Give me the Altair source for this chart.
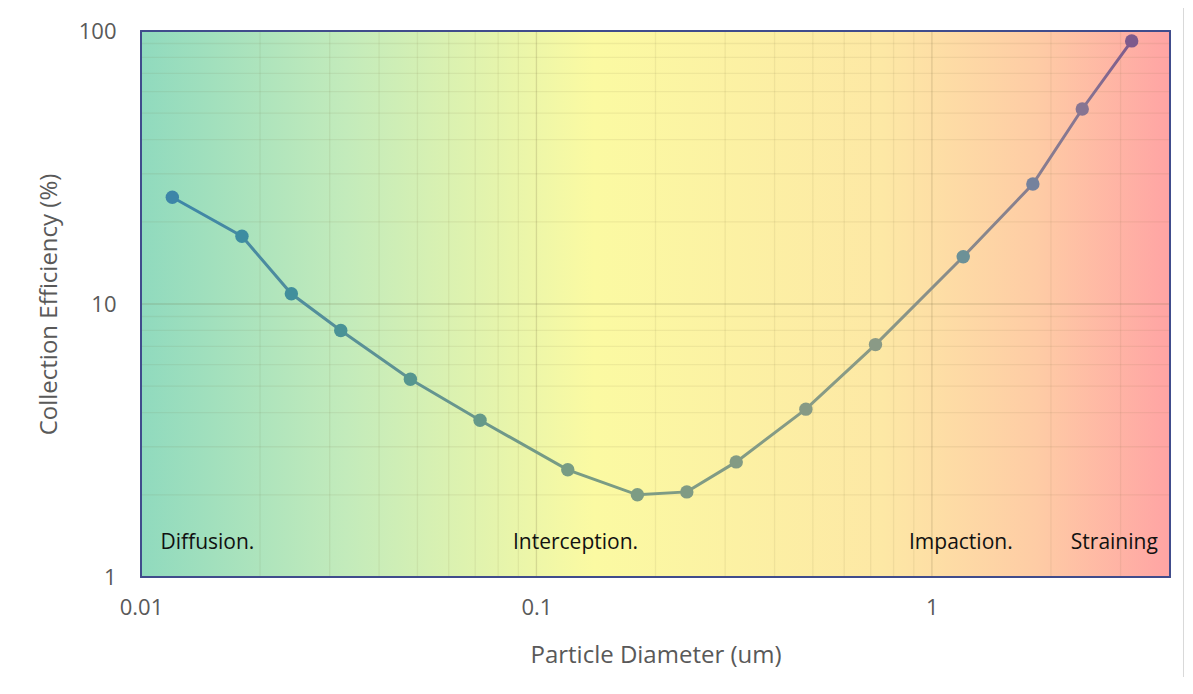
import altair as alt
import pandas as pd

diameter = [0.012, 0.018, 0.024, 0.032, 0.048, 0.072, 0.12, 0.18, 0.24, 0.32, 0.48, 0.72, 1.2, 1.8, 2.4, 3.2]
efficiency = [24.6, 17.7, 10.9, 8.0, 5.3, 3.75, 2.47, 2.0, 2.05, 2.64, 4.12, 7.1, 14.9, 27.5, 51.8, 92.0]

region_labels = ["Diffusion.", "Interception.", "Impaction.", "Straining"]
region_x = [0.0112, 0.0872, 0.875, 2.245]
region_y = [1.33, 1.33, 1.33, 1.33]

x_major = [0.01, 0.1, 1]
x_minor = [0.02, 0.03, 0.04, 0.05, 0.06, 0.07, 0.08, 0.09,
           0.2, 0.3, 0.4, 0.5, 0.6, 0.7, 0.8, 0.9, 2, 3]
y_major = [1, 10, 100]
y_minor = [2, 3, 4, 5, 6, 7, 8, 9, 20, 30, 40, 50, 60, 70, 80, 90]

W, H = 1029, 546
FONT = "Open Sans"

df = pd.DataFrame({"d": diameter, "e": efficiency})
ann = pd.DataFrame({"t": region_labels, "x": region_x, "y": region_y})

grid_col = "#6e643c"

xscale = alt.Scale(type="log", domain=[0.01, 4], nice=False)
yscale = alt.Scale(type="log", domain=[1, 100], nice=False)

xaxis = alt.Axis(
    title="Particle Diameter (um)", values=x_major, format="~g",
    grid=False, domain=False, ticks=False, labelOverlap=False, labelFlush=False,
    labelPadding=20, labelFontSize=22, labelColor="#595959", labelFont=FONT,
    titleFont=FONT, titleFontSize=24, titleFontWeight="normal", titleColor="#595959", titlePadding=25,
)
yaxis = alt.Axis(
    title="Collection Efficiency (%)", values=y_major, format="~g",
    grid=False, domain=False, ticks=False, labelOverlap=False, labelFlush=False,
    labelPadding=25, labelFontSize=22, labelColor="#595959", labelFont=FONT,
    titleFont=FONT, titleFontSize=24, titleFontWeight="normal", titleColor="#595959", titlePadding=17,
)

bg = alt.Gradient(
    gradient="linear",
    stops=[
        alt.GradientStop(offset=0, color="#90dabe"),
        alt.GradientStop(offset=0.2, color="#c3ebbb"),
        alt.GradientStop(offset=0.44, color="#fbfaa2"),
        alt.GradientStop(offset=0.72, color="#fde8a5"),
        alt.GradientStop(offset=0.87, color="#fecca5"),
        alt.GradientStop(offset=1, color="#ffa4a4"),
    ],
    x1=0, x2=1, y1=0, y2=0,
)

background = alt.Chart(ann).mark_rect(fill=bg, stroke=None).encode(
    x=alt.value(0), x2=alt.value(W), y=alt.value(0), y2=alt.value(H)
)

gx_minor = alt.Chart(pd.DataFrame({"v": x_minor})).mark_rule(color=grid_col, opacity=0.09, strokeWidth=1.3).encode(
    x=alt.X("v:Q", scale=xscale, axis=xaxis))
gx_major = alt.Chart(pd.DataFrame({"v": x_major})).mark_rule(color=grid_col, opacity=0.2, strokeWidth=1.3).encode(
    x=alt.X("v:Q", scale=xscale))
gy_minor = alt.Chart(pd.DataFrame({"v": y_minor})).mark_rule(color=grid_col, opacity=0.09, strokeWidth=1.3).encode(
    y=alt.Y("v:Q", scale=yscale, axis=yaxis))
gy_major = alt.Chart(pd.DataFrame({"v": y_major})).mark_rule(color=grid_col, opacity=0.2, strokeWidth=1.3).encode(
    y=alt.Y("v:Q", scale=yscale))

line_grad = alt.Gradient(
    gradient="linear",
    stops=[
        alt.GradientStop(offset=0, color="#3d86a8"),
        alt.GradientStop(offset=0.41, color="#789c84"),
        alt.GradientStop(offset=0.73, color="#8a9a86"),
        alt.GradientStop(offset=0.95, color="#877592"),
        alt.GradientStop(offset=1, color="#7e5a8c"),
    ],
    x1=0, x2=1, y1=0, y2=0,
)

base = alt.Chart(df)

line = base.mark_line(strokeWidth=3, color=line_grad).encode(
    x=alt.X("d:Q", scale=xscale),
    y=alt.Y("e:Q", scale=yscale),
)

points = base.mark_point(filled=True, size=180, opacity=1).encode(
    x=alt.X("d:Q", scale=xscale),
    y=alt.Y("e:Q", scale=yscale),
    color=alt.Color("d:Q", scale=alt.Scale(type="log", domain=[0.012, 0.12, 0.72, 2.4, 3.2],
                                            range=["#3d86a8", "#789c84", "#8a9a86", "#877592", "#7e5a8c"]),
                    legend=None),
)

text = alt.Chart(ann).mark_text(align="left", baseline="middle", fontSize=21, font=FONT, color="#111111").encode(
    x=alt.X("x:Q", scale=xscale),
    y=alt.Y("y:Q", scale=yscale),
    text="t:N",
)

frame = alt.Chart(ann).mark_rect(fill=None, stroke="#404c8c", strokeWidth=1.5).encode(
    x=alt.value(0), x2=alt.value(W), y=alt.value(0), y2=alt.value(H)
)

outer = alt.Chart(ann).mark_rect(fill=None, stroke="#d9d9d9", strokeWidth=2).encode(
    x=alt.value(5 - 141), x2=alt.value(1184 - 141), y=alt.value(4 - 31), y2=alt.value(684 - 31)
)

chart = alt.layer(background, gx_minor, gx_major, gy_minor, gy_major, line, points, text, frame, outer).properties(
    width=W, height=H,
    autosize=alt.AutoSizeParams(type="none"),
    padding={"left": 133, "top": 23, "right": 14, "bottom": 100},
    background="white",
).configure_view(stroke=None)

chart.save("out.html", embed_options={"renderer": "svg", "actions": False})
